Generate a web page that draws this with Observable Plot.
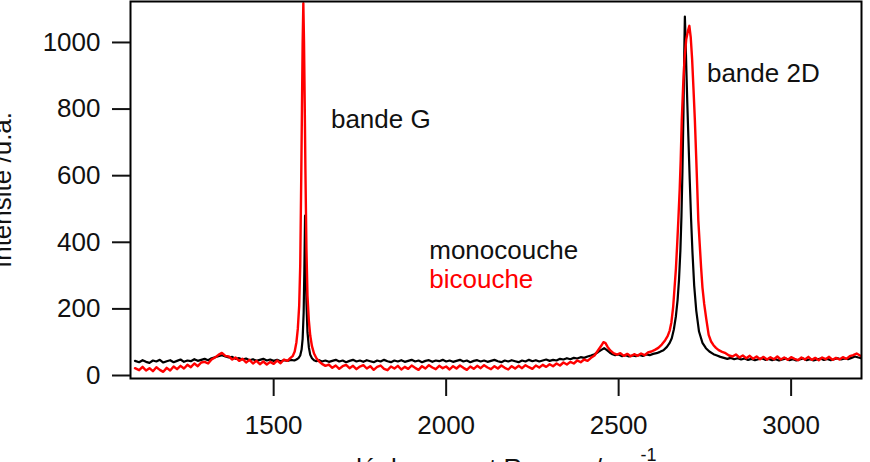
<!DOCTYPE html>
<html>
<head>
<meta charset="utf-8">
<script src="https://cdn.jsdelivr.net/npm/d3@7"></script>
<script src="https://cdn.jsdelivr.net/npm/@observablehq/plot@0.6"></script>
<style>
  html, body { margin: 0; padding: 0; background: #fff; }
  svg { display: block; }
</style>
</head>
<body>
<div id="chart"></div>
<script>
// Raman spectra of graphene: [Raman shift (cm-1), intensity (a.u.)]
const monocouche = [
  [1098,44],[1110,40],[1120,46],[1130,41],[1140,38],[1150,45],[1160,42],[1170,47],[1180,39],[1190,43],
  [1200,46],[1210,40],[1220,44],[1230,48],[1240,41],[1250,45],[1260,43],[1270,49],[1280,44],[1290,47],
  [1300,50],[1310,46],[1320,52],[1330,55],[1340,58],[1350,61],[1360,57],[1370,54],[1380,56],[1390,50],
  [1400,52],[1410,48],[1420,51],[1430,46],[1440,49],[1450,44],[1460,47],[1470,50],[1480,45],[1490,48],
  [1500,44],[1510,47],[1520,43],[1530,46],[1540,44],[1550,47],[1560,45],[1566,48],[1572,52],[1577,60],
  [1581,78],[1584,110],[1587,190],[1589,320],[1591,480],[1593,350],[1595,220],[1598,130],[1602,85],[1606,62],
  [1611,52],[1617,46],[1624,43],[1632,46],[1640,42],[1650,45],[1660,41],[1670,44],[1680,47],[1690,42],
  [1700,45],[1710,40],[1720,44],[1730,47],[1740,42],[1750,45],[1760,41],[1770,46],[1780,43],[1790,40],
  [1800,45],[1810,42],[1820,47],[1830,43],[1840,40],[1850,45],[1860,42],[1870,46],[1880,41],[1890,44],
  [1900,47],[1910,42],[1920,45],[1930,40],[1940,44],[1950,46],[1960,41],[1970,45],[1980,43],[1990,47],
  [2000,42],[2010,45],[2020,41],[2030,44],[2040,47],[2050,42],[2060,45],[2070,40],[2080,44],[2090,46],
  [2100,42],[2110,45],[2120,41],[2130,44],[2140,47],[2150,43],[2160,40],[2170,45],[2180,42],[2190,46],
  [2200,43],[2210,40],[2220,45],[2230,42],[2240,47],[2250,43],[2260,46],[2270,42],[2280,45],[2290,48],
  [2300,44],[2310,47],[2320,45],[2330,50],[2340,48],[2350,52],[2360,49],[2370,53],[2380,51],[2390,55],
  [2400,53],[2410,57],[2420,60],[2430,64],[2440,70],[2450,77],[2458,82],[2466,76],[2474,69],[2482,64],
  [2490,61],[2500,63],[2510,58],[2520,61],[2530,57],[2540,60],[2550,58],[2560,62],[2570,59],[2580,63],
  [2590,61],[2600,65],[2610,67],[2620,71],[2630,76],[2640,86],[2648,98],[2654,112],[2660,138],[2666,178],
  [2671,228],[2675,288],[2679,375],[2682,475],[2685,615],[2688,795],[2690,955],[2692,1078],[2694,1010],[2696,930],
  [2699,820],[2702,720],[2706,590],[2710,470],[2714,370],[2719,270],[2725,195],[2733,132],[2743,98],[2753,82],
  [2763,72],[2775,64],[2785,60],[2795,56],[2805,53],[2815,50],[2825,53],[2835,49],[2845,52],[2855,48],
  [2865,51],[2875,47],[2885,50],[2895,46],[2905,49],[2915,52],[2925,47],[2935,50],[2945,46],[2955,49],
  [2965,45],[2975,48],[2985,51],[2995,46],[3005,49],[3015,45],[3025,48],[3035,51],[3045,46],[3055,49],
  [3065,45],[3075,48],[3085,51],[3095,47],[3105,50],[3115,46],[3125,49],[3135,52],[3145,48],[3155,51],
  [3165,49],[3175,53],[3185,57],[3195,54],[3203,52]
];

const bicouche = [
  [1098,22],[1110,16],[1120,26],[1130,15],[1140,22],[1150,13],[1160,25],[1170,17],[1180,11],[1190,23],
  [1200,15],[1210,27],[1220,19],[1230,29],[1240,21],[1250,32],[1260,25],[1270,36],[1280,28],[1290,39],
  [1300,41],[1310,36],[1320,48],[1330,54],[1340,62],[1350,68],[1360,59],[1370,57],[1380,48],[1390,54],
  [1400,44],[1410,50],[1420,39],[1430,47],[1440,36],[1450,44],[1460,34],[1470,42],[1480,33],[1490,41],
  [1500,35],[1510,45],[1520,37],[1530,48],[1540,44],[1548,52],[1555,58],[1561,72],[1566,100],[1570,140],
  [1574,210],[1577,330],[1580,600],[1582,800],[1584,1000],[1586,1118],[1588,1000],[1590,820],[1592,620],[1595,380],
  [1598,240],[1602,165],[1606,120],[1611,88],[1617,66],[1624,52],[1632,42],[1640,35],[1650,29],[1660,33],
  [1670,23],[1680,30],[1690,20],[1700,28],[1710,32],[1720,22],[1730,29],[1740,19],[1750,27],[1760,31],
  [1770,21],[1780,28],[1790,17],[1800,26],[1810,30],[1820,20],[1830,16],[1840,27],[1850,21],[1860,29],
  [1870,18],[1880,26],[1890,20],[1900,30],[1910,23],[1920,17],[1930,28],[1940,21],[1950,31],[1960,24],
  [1970,19],[1980,29],[1990,22],[2000,27],[2010,18],[2020,28],[2030,21],[2040,30],[2050,23],[2060,17],
  [2070,27],[2080,20],[2090,29],[2100,22],[2110,31],[2120,24],[2130,19],[2140,28],[2150,21],[2160,30],
  [2170,23],[2180,18],[2190,28],[2200,21],[2210,29],[2220,22],[2230,31],[2240,25],[2250,20],[2260,30],
  [2270,24],[2280,32],[2290,26],[2300,34],[2310,28],[2320,36],[2330,30],[2340,39],[2350,33],[2360,41],
  [2370,36],[2380,45],[2390,40],[2400,48],[2410,44],[2420,53],[2430,60],[2440,75],[2450,90],[2456,100],
  [2462,97],[2468,86],[2475,76],[2485,67],[2495,63],[2505,67],[2515,59],[2525,65],[2535,58],[2545,64],
  [2555,59],[2565,66],[2575,61],[2585,69],[2595,72],[2605,77],[2615,83],[2625,93],[2635,106],[2642,118],
  [2648,135],[2653,160],[2658,205],[2662,262],[2666,320],[2670,400],[2673,465],[2677,560],[2680,650],[2683,766],
  [2687,870],[2691,950],[2696,1010],[2701,1035],[2705,1050],[2709,1015],[2713,950],[2717,860],[2721,766],[2725,650],
  [2728,560],[2731,465],[2735,395],[2739,325],[2743,264],[2748,215],[2754,170],[2761,122],[2768,102],[2775,91],
  [2782,83],[2790,76],[2800,71],[2810,67],[2820,60],[2830,57],[2840,63],[2850,54],[2860,60],[2870,52],
  [2880,59],[2890,50],[2900,57],[2910,49],[2920,56],[2930,48],[2940,55],[2950,49],[2960,57],[2970,48],
  [2980,54],[2990,47],[3000,55],[3010,50],[3020,46],[3030,54],[3040,48],[3050,56],[3060,47],[3070,53],
  [3080,46],[3090,54],[3100,49],[3110,56],[3120,47],[3130,53],[3140,48],[3150,55],[3160,50],[3170,58],
  [3180,61],[3190,66],[3203,58]
];

const xTicks = [1500, 2000, 2500, 3000];
const yTicks = [0, 200, 400, 600, 800, 1000];

const bandLabels = [
  {label: "bande G", shift: 1666, intensity: 742},
  {label: "bande 2D", shift: 2756, intensity: 880}
];
const seriesLabels = [
  {label: "monocouche", shift: 1951, intensity: 351, color: "#111111"},
  {label: "bicouche", shift: 1951, intensity: 264, color: "#ff0000"}
];

const font = "'Liberation Sans', Arial, Helvetica, sans-serif";

const chart = Plot.plot({
  width: 870,
  height: 462,
  marginLeft: 130,
  marginRight: 9,
  marginTop: 1,
  marginBottom: 84,
  style: {fontFamily: font, fontSize: "26px", color: "#111", background: "#fff", overflow: "visible"},
  x: {domain: [1085, 3204]},
  y: {domain: [-9, 1123]},
  marks: [
    Plot.line(monocouche, {x: d => d[0], y: d => d[1], stroke: "#000000", strokeWidth: 2.2, clip: true}),
    Plot.line(bicouche, {x: d => d[0], y: d => d[1], stroke: "#ff0000", strokeWidth: 2.4, clip: true}),
    Plot.frame({stroke: "#000", strokeWidth: 2}),
    Plot.axisX(xTicks, {tickSize: 18, tickPadding: 19, strokeWidth: 2, label: null, tickFormat: d => String(d), fontSize: 26, fill: "#111"}),
    Plot.axisY(yTicks, {tickSize: 18, tickPadding: 12, strokeWidth: 2, label: null, tickFormat: d => String(d), fontSize: 26, fill: "#111"}),
    Plot.text(bandLabels, {x: "shift", y: "intensity", text: "label", textAnchor: "start", lineAnchor: "bottom", fill: "#111", fontSize: 26}),
    Plot.text(seriesLabels, {x: "shift", y: "intensity", text: "label", textAnchor: "start", lineAnchor: "bottom", fill: d => d.color, fontSize: 26}),
    // axis titles
    Plot.text(["Intensité /u.a."], {text: d => d, frameAnchor: "left", rotate: -90, textAnchor: "middle", lineAnchor: "bottom", dx: -120, fill: "#111", fontSize: 26}),
    Plot.text(["déplacement Raman /cm"], {text: d => d, frameAnchor: "bottom-left", textAnchor: "start", lineAnchor: "bottom", dx: 217, dy: 98, fill: "#111", fontSize: 26}),
    Plot.text(["-1"], {text: d => d, frameAnchor: "bottom-left", textAnchor: "start", lineAnchor: "bottom", dx: 510, dy: 82, fill: "#111", fontSize: 18})
  ]
});

document.getElementById("chart").append(chart);
</script>
</body>
</html>
